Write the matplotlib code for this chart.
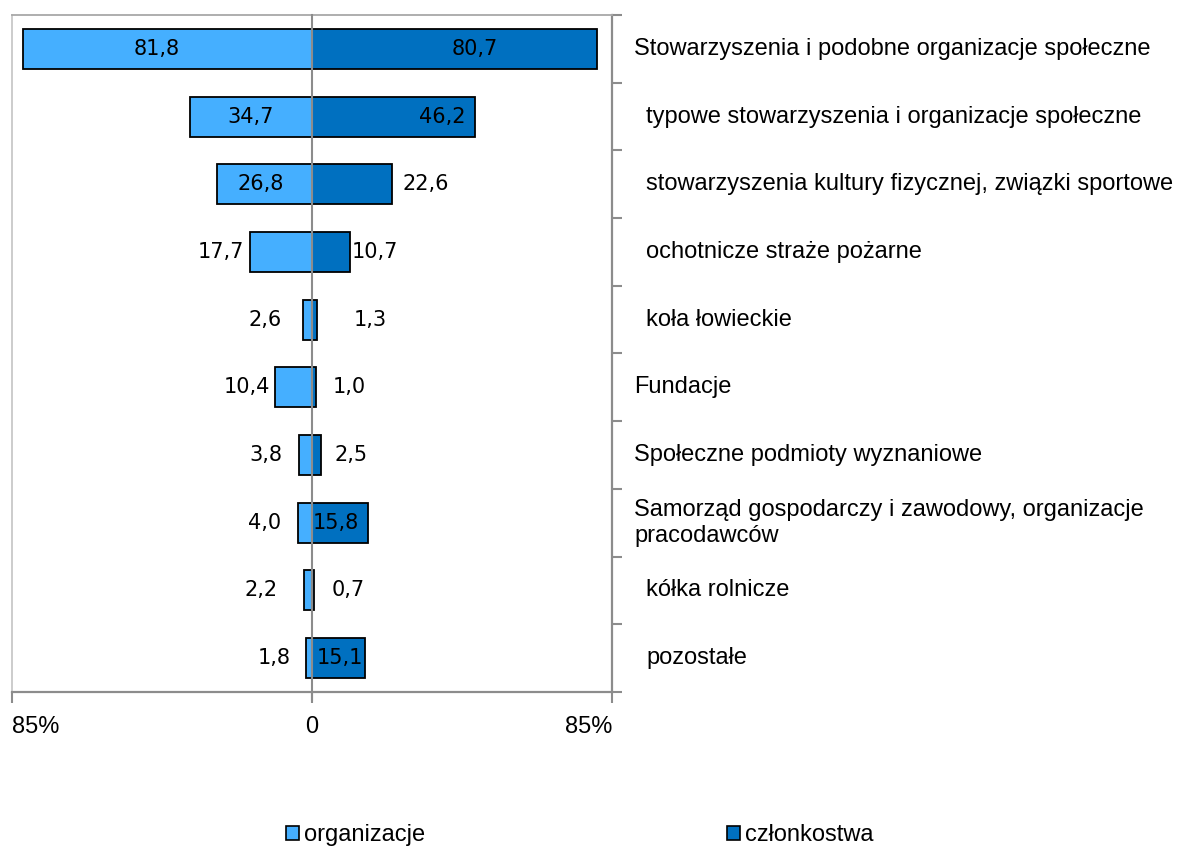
import matplotlib
matplotlib.use("Agg")
import matplotlib.pyplot as plt
from matplotlib.patches import Patch
import numpy as np

categories = [
    "Stowarzyszenia i podobne organizacje społeczne",
    "typowe stowarzyszenia i organizacje społeczne",
    "stowarzyszenia kultury fizycznej, związki sportowe",
    "ochotnicze straże pożarne",
    "koła łowieckie",
    "Fundacje",
    "Społeczne podmioty wyznaniowe",
    "Samorząd gospodarczy i zawodowy, organizacje\npracodawców",
    "kółka rolnicze",
    "pozostałe",
]
is_sub = [False, True, True, True, True, False, False, False, True, True]
organizacje = [81.8, 34.7, 26.8, 17.7, 2.6, 10.4, 3.8, 4.0, 2.2, 1.8]
czlonkostwa = [80.7, 46.2, 22.6, 10.7, 1.3, 1.0, 2.5, 15.8, 0.7, 15.1]
tick_labels = ["85%", "0", "85%"]

LIGHT = "#45AFFF"
DARK = "#0070C0"

fig = plt.figure(figsize=(11.81, 8.46), dpi=100)
ax = fig.add_axes([12 / 1181, 1 - 692 / 846, 600 / 1181, 677 / 846])

n = len(categories)
y = np.arange(n)
h = 0.59
ax.barh(y, [-v for v in organizacje], height=h, color=LIGHT, edgecolor="black", linewidth=1.3, zorder=2)
ax.barh(y, czlonkostwa, height=h, color=DARK, edgecolor="black", linewidth=1.3, zorder=3)
ax.axvline(0, color="#8c8c8c", lw=1.5, zorder=4, ymin=-0.012, clip_on=False)

ax.set_xlim(-85, 85)
ax.set_ylim(n - 0.5, -0.5)

# value label positions (data units), as placed in the original
left_pos = [-43.9, -17.3, -14.4, -25.8, -13.3, -18.4, -13.0, -13.3, -14.4, -10.8]
right_pos = [46.2, 36.8, 32.3, 17.8, 16.4, 10.5, 11.0, 6.8, 10.2, 7.9]
for i in range(n):
    ax.text(left_pos[i], y[i], f"{organizacje[i]:.1f}".replace(".", ","), ha="center", va="center",
            fontsize=15, family="DejaVu Sans", zorder=5)
    ax.text(right_pos[i], y[i], f"{czlonkostwa[i]:.1f}".replace(".", ","), ha="center", va="center",
            fontsize=15, family="DejaVu Sans", zorder=5)

# category labels on the right
tr = ax.get_yaxis_transform()
for i, c in enumerate(categories):
    x0 = 1.057 if is_sub[i] else 1.037
    ax.text(x0, y[i], c, transform=tr, ha="left", va="center", fontsize=17,
            family="Liberation Sans", linespacing=1.25)

# spines and ticks
ax.spines["left"].set_color("#c8c8c8")
ax.spines["left"].set_linewidth(1.3)
ax.spines["top"].set_color("#a8a8a8")
ax.spines["top"].set_linewidth(1.3)
for s in ["right", "bottom"]:
    ax.spines[s].set_color("#8c8c8c")
    ax.spines[s].set_linewidth(1.6)

ax.set_xticks([-85, 0, 85])
ax.set_xticklabels(tick_labels, fontsize=17, family="Liberation Sans")
xl = ax.get_xticklabels()
xl[0].set_ha("left")
xl[2].set_ha("right")
ax.tick_params(axis="x", direction="out", length=8, width=1.5, color="#8c8c8c", pad=9)

ax.set_yticks([])
ax.set_yticks(np.arange(n + 1) - 0.5, minor=True)
ax.tick_params(axis="y", which="minor", left=False, right=True, direction="out",
               length=7, width=1.5, color="#8c8c8c")

handles = [Patch(facecolor=LIGHT, edgecolor="black", linewidth=1.2),
           Patch(facecolor=DARK, edgecolor="black", linewidth=1.2)]
fig.legend(handles, ["organizacje", "członkostwa"], loc="center", bbox_to_anchor=(0.491, 0.013),
           ncol=2, frameon=False, handlelength=0.55, handleheight=0.55, handletextpad=0.2,
           columnspacing=12.8, borderpad=0.2, prop={"family": "Liberation Sans", "size": 17})

fig.savefig("out.png", dpi=100)
